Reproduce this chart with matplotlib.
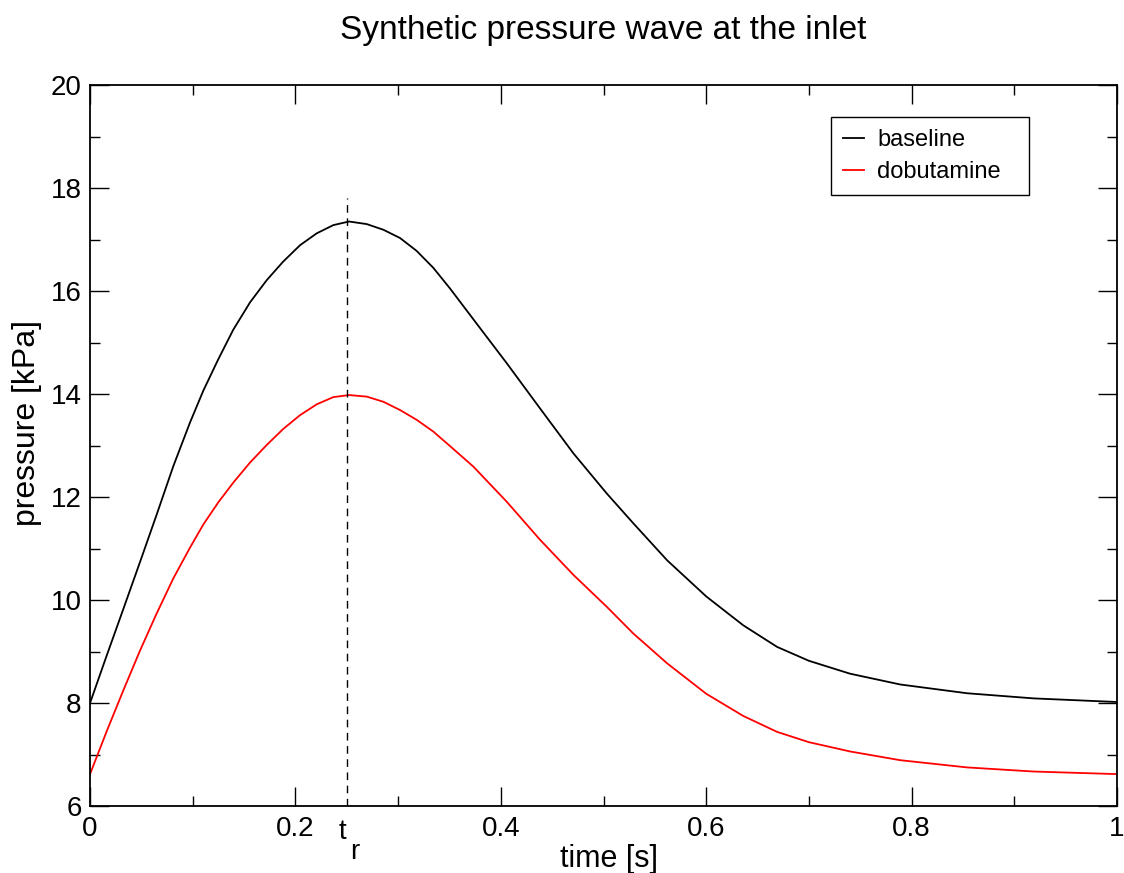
import matplotlib
matplotlib.use("Agg")
import matplotlib.pyplot as plt
from matplotlib.ticker import MultipleLocator
import matplotlib.transforms as mtransforms

plt.rcParams['font.family'] = ['Liberation Sans', 'DejaVu Sans']

# time [s] at which the curves were read
time = [0.0, 0.0162, 0.0325, 0.0487, 0.0649, 0.0811, 0.0974, 0.1104, 0.125,
        0.1395, 0.1558, 0.172, 0.188, 0.2045, 0.2207, 0.2369, 0.2522, 0.2694,
        0.2856, 0.3018, 0.318, 0.3343, 0.3505, 0.3733, 0.4057, 0.4382, 0.4706,
        0.5031, 0.529, 0.562, 0.600, 0.636, 0.669, 0.700, 0.740, 0.789, 0.854,
        0.919, 1.000]

# pressure [kPa]
baseline = [8.00, 8.92, 9.83, 10.74, 11.66, 12.60, 13.45, 14.07, 14.68,
            15.25, 15.78, 16.21, 16.57, 16.89, 17.12, 17.28, 17.35, 17.30,
            17.19, 17.03, 16.78, 16.45, 16.05, 15.45, 14.60, 13.72, 12.85,
            12.07, 11.49, 10.77, 10.07, 9.51, 9.09, 8.82, 8.57, 8.36, 8.19,
            8.09, 8.02]
dobutamine = [6.62, 7.45, 8.25, 9.02, 9.74, 10.42, 11.02, 11.47, 11.90,
              12.28, 12.67, 13.01, 13.32, 13.59, 13.80, 13.94, 13.98, 13.95,
              13.85, 13.69, 13.50, 13.27, 12.99, 12.59, 11.91, 11.17, 10.49,
              9.87, 9.35, 8.77, 8.18, 7.75, 7.44, 7.24, 7.06, 6.89, 6.75,
              6.67, 6.62]

t_r = 0.25
t_r_top = 17.8

fig = plt.figure(figsize=(11.24, 8.73), dpi=100)
ax = fig.add_axes([0.0801, 0.0767, 0.9137, 0.8259])

ax.plot(time, baseline, color='black', lw=1.3, label='baseline')
ax.plot(time, dobutamine, color='#ff0000', lw=1.3, label='dobutamine')
ax.plot([t_r, t_r], [6, t_r_top], color='black', lw=1.0, ls=(0, (5.5, 4)))

ax.set_xlim(0, 1)
ax.set_ylim(6, 20)
ax.xaxis.set_minor_locator(MultipleLocator(0.1))
ax.yaxis.set_major_locator(MultipleLocator(2))
ax.yaxis.set_minor_locator(MultipleLocator(1))
ax.set_xticks([0, 0.2, 0.4, 0.6, 0.8, 1.0])
ax.set_xticklabels(['0', '0.2', '0.4', '0.6', '0.8', '1'])
ax.tick_params(which='both', direction='in', top=True, right=True, width=1.0,
               labelsize=20)
ax.tick_params(which='major', length=14)
ax.tick_params(which='minor', length=7)
ax.tick_params(axis='x', pad=7)
ax.tick_params(axis='y', pad=6)
for s in ax.spines.values():
    s.set_linewidth(1.3)

# t_r marker label under the axis
trans = mtransforms.blended_transform_factory(ax.transData, ax.transAxes)
ax.text(t_r - 0.004, -0.018, 't', transform=trans, ha='center', va='top', fontsize=20)
ax.text(t_r + 0.003, -0.046, 'r', transform=trans, ha='left', va='top', fontsize=20)

ax.set_xlabel('time [s]', fontsize=22)
ax.xaxis.set_label_coords(0.505, -0.052, transform=ax.transAxes)
ax.xaxis.label.set_va('top')
ax.set_ylabel('pressure [kPa]', fontsize=23)
ax.yaxis.set_label_coords(-0.047, 0.531)
ax.set_title('Synthetic pressure wave at the inlet', fontsize=24, pad=33)

leg = ax.legend(loc='upper left', bbox_to_anchor=(0.7215, 0.8516, 0.1928, 0.104),
                mode='expand', fontsize=17, handlelength=0.9, handletextpad=0.55,
                borderpad=0.5, labelspacing=0.42, borderaxespad=0,
                fancybox=False, framealpha=1)
leg.get_frame().set_edgecolor('black')
leg.get_frame().set_linewidth(1.0)

fig.savefig('out.png', dpi=100)
